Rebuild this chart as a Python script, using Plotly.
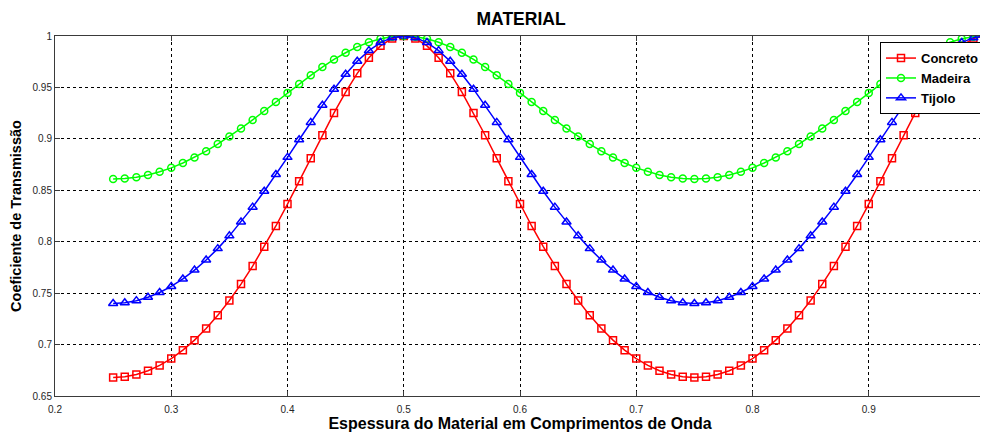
import plotly.graph_objects as go

thickness = [0.25, 0.26, 0.27, 0.28, 0.29, 0.30, 0.31, 0.32, 0.33, 0.34,
             0.35, 0.36, 0.37, 0.38, 0.39, 0.40, 0.41, 0.42, 0.43, 0.44,
             0.45, 0.46, 0.47, 0.48, 0.49, 0.50, 0.51, 0.52, 0.53, 0.54,
             0.55, 0.56, 0.57, 0.58, 0.59, 0.60, 0.61, 0.62, 0.63, 0.64,
             0.65, 0.66, 0.67, 0.68, 0.69, 0.70, 0.71, 0.72, 0.73, 0.74,
             0.75, 0.76, 0.77, 0.78, 0.79, 0.80, 0.81, 0.82, 0.83, 0.84,
             0.85, 0.86, 0.87, 0.88, 0.89, 0.90, 0.91, 0.92, 0.93, 0.94,
             0.95, 0.96, 0.97, 0.98, 0.99, 1.00]

concreto = [0.6680, 0.6687, 0.6709, 0.6746, 0.6797, 0.6864, 0.6946, 0.7043, 0.7156, 0.7284,
            0.7428, 0.7588, 0.7763, 0.7952, 0.8153, 0.8366, 0.8587, 0.8811, 0.9035, 0.9252,
            0.9455, 0.9637, 0.9789, 0.9904, 0.9976, 1.0000,
            0.9976, 0.9904, 0.9789, 0.9637, 0.9455, 0.9252, 0.9035, 0.8811, 0.8587, 0.8366,
            0.8153, 0.7952, 0.7763, 0.7588, 0.7428, 0.7284, 0.7156, 0.7043, 0.6946, 0.6864,
            0.6797, 0.6746, 0.6709, 0.6687, 0.6680,
            0.6687, 0.6709, 0.6746, 0.6797, 0.6864, 0.6946, 0.7043, 0.7156, 0.7284, 0.7428,
            0.7588, 0.7763, 0.7952, 0.8153, 0.8366, 0.8587, 0.8811, 0.9035, 0.9252, 0.9455,
            0.9637, 0.9789, 0.9904, 0.9976, 1.0000]

madeira = [0.8610, 0.8614, 0.8627, 0.8649, 0.8680, 0.8718, 0.8765, 0.8819, 0.8880, 0.8949,
           0.9022, 0.9101, 0.9184, 0.9271, 0.9358, 0.9447, 0.9534, 0.9618, 0.9698, 0.9772,
           0.9837, 0.9894, 0.9939, 0.9973, 0.9993, 1.0000,
           0.9993, 0.9973, 0.9939, 0.9894, 0.9837, 0.9772, 0.9698, 0.9618, 0.9534, 0.9447,
           0.9358, 0.9271, 0.9184, 0.9101, 0.9022, 0.8949, 0.8880, 0.8819, 0.8765, 0.8718,
           0.8680, 0.8649, 0.8627, 0.8614, 0.8610,
           0.8614, 0.8627, 0.8649, 0.8680, 0.8718, 0.8765, 0.8819, 0.8880, 0.8949, 0.9022,
           0.9101, 0.9184, 0.9271, 0.9358, 0.9447, 0.9534, 0.9618, 0.9698, 0.9772, 0.9837,
           0.9894, 0.9939, 0.9973, 0.9993, 1.0000]

tijolo = [0.7400, 0.7407, 0.7427, 0.7460, 0.7506, 0.7565, 0.7638, 0.7724, 0.7822, 0.7933,
          0.8057, 0.8191, 0.8336, 0.8491, 0.8653, 0.8820, 0.8991, 0.9160, 0.9326, 0.9483,
          0.9628, 0.9754, 0.9858, 0.9936, 0.9984, 1.0000,
          0.9984, 0.9936, 0.9858, 0.9754, 0.9628, 0.9483, 0.9326, 0.9160, 0.8991, 0.8820,
          0.8653, 0.8491, 0.8336, 0.8191, 0.8057, 0.7933, 0.7822, 0.7724, 0.7638, 0.7565,
          0.7506, 0.7460, 0.7427, 0.7407, 0.7400,
          0.7407, 0.7427, 0.7460, 0.7506, 0.7565, 0.7638, 0.7724, 0.7822, 0.7933, 0.8057,
          0.8191, 0.8336, 0.8491, 0.8653, 0.8820, 0.8991, 0.9160, 0.9326, 0.9483, 0.9628,
          0.9754, 0.9858, 0.9936, 0.9984, 1.0000]

x_ticks = [0.2, 0.3, 0.4, 0.5, 0.6, 0.7, 0.8, 0.9]
y_ticks = [0.65, 0.7, 0.75, 0.8, 0.85, 0.9, 0.95, 1.0]
y_tick_text = ["0.65", "0.7", "0.75", "0.8", "0.85", "0.9", "0.95", "1"]

series = [
    ("Concreto", concreto, "#ff0000", "square-open", 7),
    ("Madeira", madeira, "#00ff00", "circle-open", 7),
    ("Tijolo", tijolo, "#0000ff", "triangle-up-open", 8),
]

fig = go.Figure()
for name, vals, color, sym, size in series:
    fig.add_trace(go.Scatter(
        x=thickness, y=vals, name=name, mode="lines+markers",
        line=dict(color=color, width=1.5),
        marker=dict(symbol=sym, size=size, color=color, line=dict(color=color, width=1.5)),
    ))

font_family = "Liberation Sans, Arial, sans-serif"
fig.update_layout(
    width=980, height=424,
    paper_bgcolor="white", plot_bgcolor="white",
    margin=dict(l=47, r=3, t=28, b=36, autoexpand=False),
    font=dict(family=font_family, size=10, color="#000000"),
    title=dict(text="MATERIAL", x=0.5235, xanchor="center", xref="container",
               y=0.974, yanchor="middle", yref="container",
               font=dict(family=font_family, size=17.5, weight="bold", color="#000000")),
    showlegend=True,
    legend=dict(x=1.0, y=0.983, xanchor="right", yanchor="top",
                bgcolor="white", bordercolor="#000000", borderwidth=1,
                font=dict(family=font_family, size=13, weight="bold", color="#000000"),
                tracegroupgap=0, itemwidth=30),
)
fig.update_xaxes(
    range=[0.2, 1.0], tickvals=x_ticks, ticktext=[str(v) for v in x_ticks],
    showgrid=True, gridcolor="#000000", griddash="dot", gridwidth=1,
    showline=True, linecolor="#3a3a3a", linewidth=1, mirror="ticks",
    ticks="inside", ticklen=5, tickcolor="#3a3a3a", ticklabelstandoff=4,
    zeroline=False, tickfont=dict(size=10, color="#262626"),
    title=dict(text="Espessura do Material em Comprimentos de Onda", standoff=2,
               font=dict(family=font_family, size=16, weight="bold", color="#000000")),
)
fig.update_yaxes(
    range=[0.65, 1.0], tickvals=y_ticks, ticktext=y_tick_text,
    showgrid=True, gridcolor="#000000", griddash="dot", gridwidth=1,
    showline=True, linecolor="#3a3a3a", linewidth=1, mirror="ticks",
    ticks="inside", ticklen=5, tickcolor="#3a3a3a",
    zeroline=False, tickfont=dict(size=10, color="#262626"),
    title=dict(text="Coeficiente de Transmissão", standoff=14,
               font=dict(family=font_family, size=14.5, weight="bold", color="#000000")),
)

fig.write_html("out.html")
